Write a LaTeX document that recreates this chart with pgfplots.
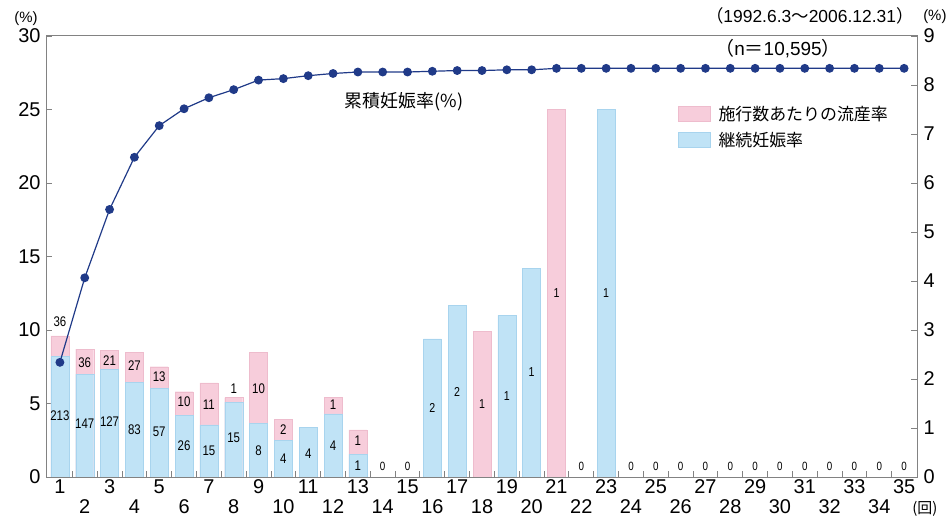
\documentclass[border=0pt]{standalone}
\usepackage{fontspec}
\setmainfont{Liberation Sans}
\newfontfamily\narrow[FakeStretch=0.82]{Liberation Sans}
\newfontfamily\cjk{Noto Sans CJK JP}
\usepackage{pgfplots}
\pgfplotsset{compat=1.18}

\definecolor{pinkbar}{RGB}{247,205,219}
\definecolor{bluebar}{RGB}{192,227,246}
\definecolor{pinkedge}{RGB}{238,188,205}
\definecolor{blueedge}{RGB}{168,212,238}
\definecolor{navy}{RGB}{32,58,136}
\definecolor{axisgray}{RGB}{130,130,130}

\begin{document}
\begin{tikzpicture}
\useasboundingbox (-47bp,-41bp) rectangle (902bp,477bp);

\begin{axis}[
    at={(0,0)}, anchor=south west,
    scale only axis, width=870bp, height=441bp,
    xmin=0.48, xmax=35.52, ymin=0, ymax=30,
    enlargelimits=false, clip=false,
    axis line style={axisgray, line width=1bp},
    tick style={axisgray, line width=0.8bp},
    tick align=inside,
    ytick={0,5,...,30}, ytick pos=left,
    yticklabel style={xshift=-3bp},
    xtick={1,3,...,35}, xtick pos=bottom,
    extra x ticks={2,4,...,34},
    extra x tick style={tick label style={yshift=-20bp}},
    major x tick style={draw=none},
    major tick length=5bp,
    tick label style={font=\fontsize{20}{20}\selectfont},
    xticklabel style={yshift=1bp},
    /pgf/number format/assume math mode=true,
    legend style={at={(axis cs:25.89,23.82)}, anchor=west, draw=none, fill=none,
        inner sep=0pt, row sep=6bp,
        font=\cjk\fontsize{17}{17}\selectfont,
        nodes={inner sep=2bp},
        /tikz/every odd column/.append style={column sep=6bp}},
    legend cell align=left,
    legend image code/.code={\fill[#1] (0bp,-7.5bp) rectangle (32bp,7.5bp);},
]

% per-cycle miscarriage (drawn to total height) and ongoing pregnancy
\addplot[ybar, bar width=18bp, bar shift=0pt, fill=pinkbar, draw=pinkedge] coordinates {
    (1,9.6) (2,8.7) (3,8.6) (4,8.5) (5,7.5) (6,5.8) (7,6.4) (8,5.4) (9,8.5)
    (10,3.9) (12,5.4) (13,3.2) (18,9.9) (21,25.0)
};
\addlegendentry{施行数あたりの流産率}

\addplot[ybar, bar width=18bp, bar shift=0pt, fill=bluebar, draw=blueedge] coordinates {
    (1,8.2) (2,7.0) (3,7.3) (4,6.45) (5,6.05) (6,4.2) (7,3.55) (8,5.1) (9,3.65)
    (10,2.5) (11,3.4) (12,4.3) (13,1.55) (16,9.4) (17,11.7) (19,11.0) (20,14.2)
    (23,25.0)
};
\addlegendentry{継続妊娠率}

% cumulative pregnancy rate
\addplot[forget plot, navy, line width=1.2bp, mark=*, mark size=3.8bp] coordinates {
    (1,7.8) (2,13.55) (3,18.2) (4,21.75) (5,23.9) (6,25.05) (7,25.8) (8,26.35)
    (9,27.0) (10,27.1) (11,27.3) (12,27.45) (13,27.55) (14,27.55) (15,27.55)
    (16,27.6) (17,27.65) (18,27.65) (19,27.7) (20,27.7) (21,27.8) (22,27.8)
    (23,27.8) (24,27.8) (25,27.8) (26,27.8) (27,27.8) (28,27.8) (29,27.8)
    (30,27.8) (31,27.8) (32,27.8) (33,27.8) (34,27.8) (35,27.8)
};

% counts written on the bars
\addplot[forget plot, only marks, mark=none, nodes near coords, point meta=explicit symbolic,
    nodes near coords style={anchor=center, inner sep=0pt, font=\narrow\fontsize{14}{14}\selectfont}]
    table[meta=t] {
x y t
1 10.55 36
1 4.2 213
2 7.8 36
2 3.6 147
3 7.95 21
3 3.75 127
4 7.55 27
4 3.25 83
5 6.85 13
5 3.1 57
6 5.1 10
6 2.15 26
7 4.95 11
7 1.8 15
8 6.0 1
8 2.65 15
9 6.0 10
9 1.8 8
10 3.25 2
10 1.25 4
11 1.6 4
12 4.9 1
12 2.1 4
13 2.5 1
13 0.8 1
};

\addplot[forget plot, only marks, mark=none, nodes near coords, point meta=explicit symbolic,
    nodes near coords style={anchor=center, inner sep=0pt, font=\narrow\fontsize{13}{13}\selectfont}]
    table[meta=t] {
x y t
16 4.7 2
17 5.8 2
18 4.95 1
19 5.5 1
20 7.15 1
21 12.5 1
23 12.5 1
};

\addplot[forget plot, only marks, mark=none, nodes near coords, point meta=explicit symbolic,
    nodes near coords style={anchor=center, inner sep=0pt, font=\narrow\fontsize{12}{12}\selectfont}]
    table[meta=t] {
x y t
14 0.72 0
15 0.72 0
22 0.72 0
24 0.72 0
25 0.72 0
26 0.72 0
27 0.72 0
28 0.72 0
29 0.72 0
30 0.72 0
31 0.72 0
32 0.72 0
33 0.72 0
34 0.72 0
35 0.72 0
};

\node[font=\cjk\fontsize{18}{18}\selectfont] at (axis cs:14.86,25.5) {累積妊娠率(\%)};
\node[font=\fontsize{19}{19}\selectfont] at (axis cs:29.92,29.15)
    {{\cjk （}n{\cjk ＝}10,595{\cjk ）}};
\node[font=\fontsize{17.5}{17.5}\selectfont] at (axis cs:31.2,31.4)
    {{\cjk （}1992.6.3{\cjk ～}2006.12.31{\cjk ）}};
\node[font=\fontsize{15}{15}\selectfont] at (axis cs:-0.37,31.2) {(\%)};
\node[font=\fontsize{15}{15}\selectfont] at (axis cs:36.24,31.3) {(\%)};
\node[font=\cjk\fontsize{15}{15}\selectfont] at (axis cs:35.84,-2.15) {(回)};
\end{axis}

% right-hand scale and the separators between cycles
\begin{axis}[
    at={(0,0)}, anchor=south west,
    scale only axis, width=870bp, height=441bp,
    xmin=0.48, xmax=35.52, ymin=0, ymax=9,
    enlargelimits=false,
    axis x line*=bottom, axis y line*=right,
    axis line style={axisgray, line width=1bp, -},
    tick style={axisgray, line width=0.9bp},
    tick align=inside, major tick length=6bp,
    xtick={1.5,2.5,...,34.5}, xticklabels={},
    ytick={0,1,...,9},
    yticklabel style={xshift=3bp},
    tick label style={font=\fontsize{20}{20}\selectfont},
    /pgf/number format/assume math mode=true,
]
\end{axis}
\end{tikzpicture}
\end{document}
